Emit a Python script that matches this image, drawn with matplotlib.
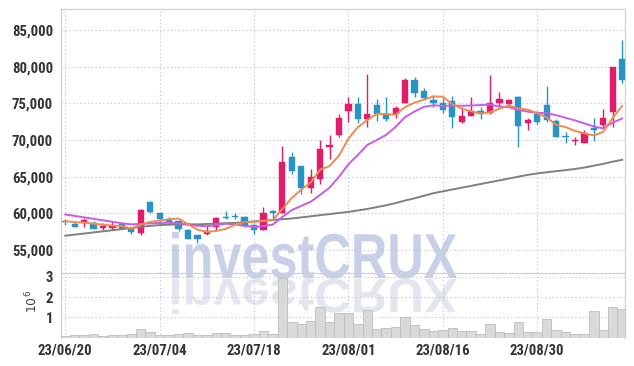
import matplotlib
matplotlib.use("Agg")
import matplotlib.pyplot as plt
from matplotlib.textpath import TextPath
from matplotlib.patches import PathPatch
from matplotlib.font_manager import FontProperties, fontManager
from matplotlib.transforms import Affine2D
from matplotlib.ticker import FuncFormatter, FixedLocator
import numpy as np

# ---------------- data ----------------
dates = ["2023-06-20", "2023-06-21", "2023-06-22", "2023-06-23", "2023-06-26", "2023-06-27",
         "2023-06-28", "2023-06-29", "2023-06-30", "2023-07-03", "2023-07-04", "2023-07-05",
         "2023-07-06", "2023-07-07", "2023-07-10", "2023-07-11", "2023-07-12", "2023-07-13",
         "2023-07-14", "2023-07-17", "2023-07-18", "2023-07-19", "2023-07-20", "2023-07-21",
         "2023-07-24", "2023-07-25", "2023-07-26", "2023-07-27", "2023-07-28", "2023-07-31",
         "2023-08-01", "2023-08-02", "2023-08-03", "2023-08-04", "2023-08-07", "2023-08-08",
         "2023-08-09", "2023-08-10", "2023-08-11", "2023-08-14", "2023-08-16", "2023-08-17",
         "2023-08-18", "2023-08-21", "2023-08-22", "2023-08-23", "2023-08-24", "2023-08-25",
         "2023-08-28", "2023-08-29", "2023-08-30", "2023-08-31", "2023-09-01", "2023-09-04",
         "2023-09-05", "2023-09-06", "2023-09-07", "2023-09-08", "2023-09-11", "2023-09-12"]

opens = [58900, 58600, 58650, 58700, 58000, 57950, 58500, 57950, 57350, 61600,
         60000, 59100, 59000, 57700, 57050, 57200, 58200, 59550, 59700, 59500,
         58400, 57750, 60300, 60000, 67700, 66400, 63400, 64700, 69100, 70700,
         74000, 74950, 72800, 74800, 73500, 73500, 75100, 78200, 76700, 75450,
         75100, 75300, 72500, 73300, 73950, 73700, 75100, 74900, 75800, 72350,
         73550, 74750, 72650, 70550, 69850, 69650, 71600, 72050, 73850, 81050]
highs = [59200, 59000, 59300, 58900, 58700, 59000, 58700, 58200, 60550, 61650,
         60050, 59500, 59100, 57900, 57100, 58300, 59500, 60350, 60100, 59600,
         58600, 60800, 60500, 69150, 68350, 66500, 66000, 70000, 70700, 73500,
         75900, 75800, 79000, 75650, 75900, 74650, 78400, 78550, 77100, 76200,
         75700, 76000, 74550, 75900, 74550, 78850, 76500, 75600, 76000, 72950,
         73900, 77350, 72800, 71100, 70450, 71350, 72950, 74200, 80000, 83600]
lows = [58400, 58200, 58200, 57800, 57700, 57750, 57800, 57200, 57050, 60000,
        58850, 58650, 57600, 56500, 56000, 57100, 57700, 59200, 59200, 58150,
        57200, 57700, 59300, 60000, 65350, 62700, 62800, 64000, 67450, 70400,
        72500, 72300, 71750, 72550, 72650, 73000, 75000, 75800, 75600, 74500,
        73650, 71600, 72350, 73300, 72800, 73600, 74550, 74800, 69000, 71400,
        72200, 72500, 70400, 69650, 69300, 69550, 69900, 71700, 71800, 77800]
closes = [58800, 58200, 59100, 57800, 58300, 58300, 57850, 57400, 60450, 60200,
          59200, 58750, 57900, 56550, 56500, 57650, 59400, 59300, 59450, 58300,
          57750, 60000, 60000, 66950, 65800, 63400, 64900, 68800, 69300, 73000,
          74900, 72800, 73550, 73600, 72900, 74300, 78200, 76400, 75700, 75100,
          74100, 73200, 73250, 74000, 73500, 75000, 75550, 75500, 71950, 72700,
          72500, 72750, 70450, 70450, 70000, 70900, 71300, 72950, 79900, 78200]
volumes_m = [0.06, 0.11, 0.11, 0.18, 0.06, 0.11, 0.11, 0.18, 0.41, 0.28,
             0.11, 0.11, 0.18, 0.23, 0.11, 0.11, 0.23, 0.23, 0.11, 0.11,
             0.18, 0.33, 0.18, 2.92, 0.77, 0.67, 0.82, 1.49, 0.77, 1.20,
             1.20, 0.65, 1.36, 0.42, 0.45, 0.50, 1.03, 0.60, 0.42, 0.33,
             0.36, 0.45, 0.33, 0.33, 0.20, 0.65, 0.26, 0.21, 0.75, 0.26,
             0.26, 0.90, 0.38, 0.26, 0.20, 0.20, 1.30, 0.38, 1.49, 1.41]
ma_short = [58950, 58800, 58750, 58600, 58440, 58340, 58270, 57930, 58460, 58840,
            59020, 59200, 59300, 58520, 57780, 57470, 57600, 57880, 58460, 58820,
            58840, 58960, 59100, 60600, 62100, 63230, 64210, 65970, 66440, 67880,
            70180, 71760, 72710, 73570, 73550, 73430, 74510, 75080, 75500, 75940,
            75900, 74900, 74270, 73930, 73610, 73790, 74260, 74710, 74300, 74140,
            73640, 73080, 72070, 71770, 71230, 70910, 70620, 71120, 73010, 74650]
ma_mid = [59850, 59650, 59450, 59250, 59050, 58850, 58650, 58500, 58550, 58640,
          58680, 58735, 58615, 58490, 58310, 58245, 58400, 58590, 58490, 58290,
          58145, 58270, 58480, 59520, 60450, 61025, 61575, 62525, 63510, 64980,
          66695, 67975, 69330, 69995, 70705, 71795, 73125, 73885, 74525, 74735,
          74655, 74695, 74665, 74705, 74765, 74835, 74570, 74480, 74105, 73865,
          73705, 73660, 73380, 73025, 72675, 72265, 71840, 71585, 72380, 72930]
ma_long = [56950, 57100, 57250, 57400, 57550, 57700, 57850, 58000, 58150, 58300,
           58400, 58450, 58500, 58500, 58500, 58550, 58600, 58650, 58700, 58800,
           58900, 59000, 59100, 59200, 59300, 59450, 59600, 59750, 59900, 60050,
           60200, 60400, 60600, 60850, 61100, 61400, 61750, 62050, 62400, 62750,
           63000, 63250, 63500, 63750, 64000, 64250, 64500, 64750, 65000, 65250,
           65450, 65600, 65750, 65900, 66050, 66250, 66500, 66750, 67050, 67300]
price_ticks = [55000, 60000, 65000, 70000, 75000, 80000, 85000]
volume_ticks = [1, 2, 3]
date_tick_idx = [0, 10, 20, 30, 40, 50]

# ---------------- style ----------------
UP = "#e21b6b"
DOWN = "#2a93c6"
GRID = "#c3c8db"
SPINE = "#d0d0d0"
TICKCOLOR = "#333333"

# prefer a condensed face if one is installed
_names = {f.name for f in fontManager.ttflist}
_cond = None
for _n in ["Liberation Sans Narrow", "Roboto Condensed", "Open Sans Condensed",
           "DejaVu Sans Condensed", "Noto Sans Condensed"]:
    if _n in _names:
        _cond = dict(family=[_n, "DejaVu Sans"], size=10.6, weight="bold")
        break
if _cond is None:
    for f in fontManager.ttflist:
        if f.stretch in ("condensed", "semi-condensed", 500 - 125, 375) and \
                f.name in ("Roboto", "Open Sans", "Noto Sans", "DejaVu Sans", "Liberation Sans"):
            _cond = dict(family=[f.name, "DejaVu Sans"], size=10.4, weight="bold",
                         stretch="condensed")
            break
TICKFONT = _cond if _cond is not None else dict(family=["Liberation Sans", "DejaVu Sans"],
                                                 size=9.4, weight="bold")

W, H = 634, 366
fig = plt.figure(figsize=(W / 100, H / 100), dpi=100)
fig.patch.set_facecolor("white")

L, R = 61.3, 625.0
ax = fig.add_axes([L / W, (H - 272.7) / H, (R - L) / W, (272.7 - 9.3) / H])
axv = fig.add_axes([L / W, (H - 337.6) / H, (R - L) / W, (337.6 - 272.7) / H], sharex=ax)
for a in (ax, axv):
    a.set_facecolor("none")
    for s in a.spines.values():
        s.set_color(SPINE)
        s.set_linewidth(0.9)
axv.spines["bottom"].set_visible(False)
ax.spines["bottom"].set_visible(False)

x = np.arange(len(closes))

# candles
for i in x:
    o, h, l, c = opens[i], highs[i], lows[i], closes[i]
    col = UP if c >= o else DOWN
    ax.vlines(i, l, h, color=col, linewidth=1.0, zorder=3)
    bottom = min(o, c)
    height = max(abs(c - o), 150)
    ax.bar(i, height, bottom=bottom, width=0.66, color=col, edgecolor=col,
           linewidth=0.3, zorder=4)

ax.plot(x, ma_long, color="#808080", linewidth=1.4, zorder=5)
ax.plot(x, ma_mid, color="#c95de6", linewidth=1.4, zorder=5)
ax.plot(x, ma_short, color="#ef8a50", linewidth=1.4, zorder=5)

ax.set_xlim(-0.42, 59.3)
ax.set_ylim(51910, 87820)
ax.yaxis.set_major_locator(FixedLocator(price_ticks))
ax.yaxis.set_major_formatter(FuncFormatter(lambda v, p: f"{int(v):,}"))
ax.grid(True, color=GRID, linestyle=(0, (1.2, 2.2)), linewidth=0.8)
ax.tick_params(axis="both", length=0)
ax.tick_params(axis="y", pad=6, colors=TICKCOLOR)
plt.setp(ax.get_xticklabels(), visible=False)
for t in ax.get_yticklabels():
    t.set_fontproperties(FontProperties(**TICKFONT))

# volume
axv.bar(x, np.array(volumes_m) * 1e6, width=1.0, color="#d9d9d9",
        edgecolor="#bdbdbd", linewidth=0.6, zorder=3)
axv.set_ylim(0, 3.2e6)
axv.yaxis.set_major_locator(FixedLocator([v * 1e6 for v in volume_ticks]))
axv.yaxis.set_major_formatter(FuncFormatter(lambda v, p: f"{int(round(v / 1e6))}"))
axv.xaxis.set_major_locator(FixedLocator(date_tick_idx))
axv.xaxis.set_major_formatter(FuncFormatter(
    lambda v, p: dates[int(round(v))][2:].replace("-", "/") if 0 <= int(round(v)) < len(dates) else ""))
axv.grid(True, color=GRID, linestyle=(0, (1.2, 2.2)), linewidth=0.8)
axv.tick_params(axis="both", length=0, colors=TICKCOLOR)
axv.tick_params(axis="y", pad=6)
axv.tick_params(axis="x", pad=4)
for t in axv.get_yticklabels() + axv.get_xticklabels():
    t.set_fontproperties(FontProperties(**TICKFONT))
fig.text(32 / W, (H - 301) / H, "10$^6$", rotation=90, ha="center", va="center",
         fontsize=9, color="#444444")

# watermark "investCRUX" with reflection (figure pixel coordinates)
fp = FontProperties(family=["Liberation Sans", "DejaVu Sans"], weight="bold")
tp = TextPath((0, 0), "investCRUX", size=100, prop=fp)
bb = tp.get_extents()
x0, x1 = 172.0, 457.0
base = H - 278.0
sx = (x1 - x0) / bb.width
sy = 46.0 / bb.y1
tx = x0 - bb.x0 * sx
tr_main = Affine2D().scale(sx / 100, sy / 100).translate(tx / 100, base / 100) + fig.dpi_scale_trans
tr_refl = Affine2D().scale(sx / 100, -sy * 0.76 / 100).translate(tx / 100, (base - 1) / 100) + fig.dpi_scale_trans
fig.add_artist(PathPatch(tp, transform=tr_refl, facecolor="#e3e6ee", edgecolor="none", zorder=-2))
fig.add_artist(PathPatch(tp, transform=tr_main, facecolor="#c8d0e8", edgecolor="none", zorder=-1))

fig.savefig("out.png", dpi=100, facecolor="white")
